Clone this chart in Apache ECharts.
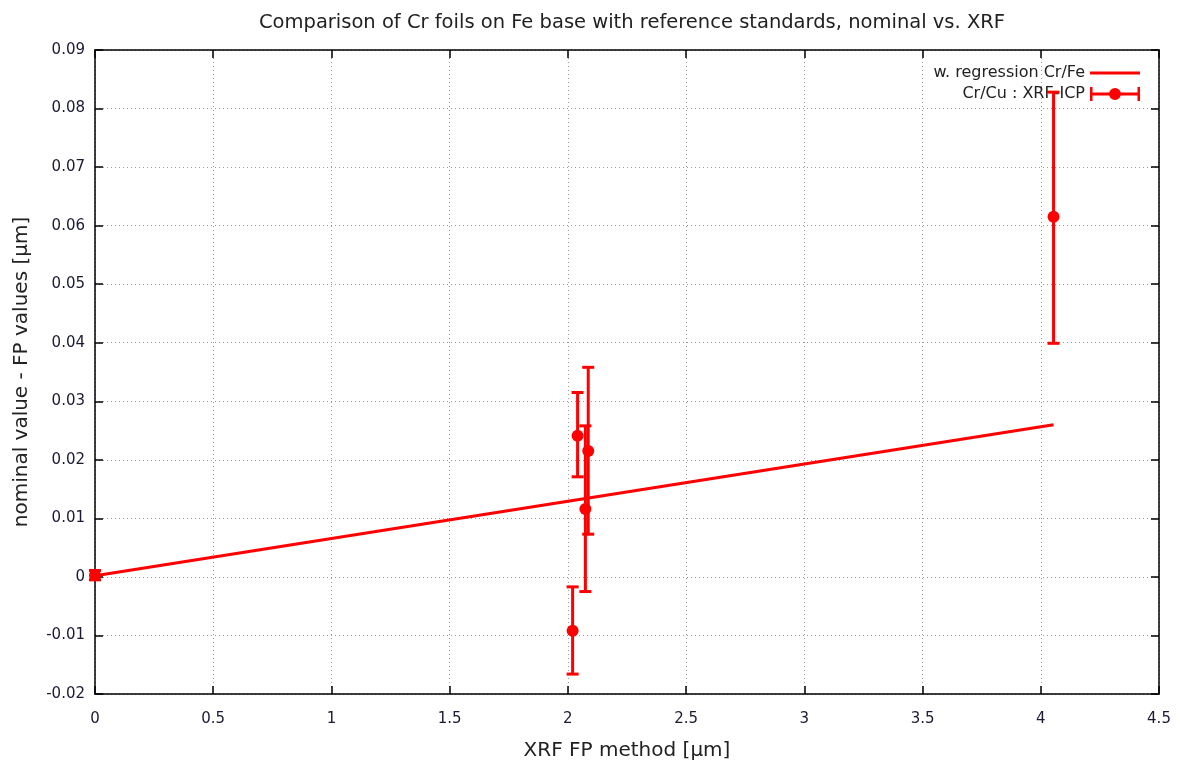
<!DOCTYPE html>
<html>
<head>
<meta charset="utf-8">
<script src="https://cdn.jsdelivr.net/npm/echarts@6/dist/echarts.min.js"></script>
<style>
  html, body { margin: 0; padding: 0; background: #fff; }
  #chart { width: 1180px; height: 764px; }
</style>
</head>
<body>
<div id="chart"></div>
<script>
// Cr/Cu : XRF-ICP points with error bars
var crCuX = [0, 2.02, 2.041, 2.086, 2.074, 4.054];
var crCuY = [0.0003, -0.0092, 0.0241, 0.0215, 0.0116, 0.0615];
var crCuLow = [-0.0005, -0.0166, 0.0171, 0.0073, -0.0025, 0.0399];
var crCuHigh = [0.0011, -0.0017, 0.0315, 0.0358, 0.0258, 0.0828];

// weighted regression line Cr/Fe
var regX = [0, 4.054];
var regY = [0.0002, 0.0260];

var font = 'DejaVu Sans';
var red = '#ff0000';

window.onload = function () {
    var chart = echarts.init(document.getElementById('chart'));

    var errData = crCuX.map(function (x, i) {
        return [x, crCuY[i], crCuLow[i], crCuHigh[i]];
    });
    var regData = regX.map(function (x, i) { return [x, regY[i]]; });

    // 误差线
    function renderErr(params, api) {
        var x = api.value(0);
        var p = api.coord([x, api.value(1)]);
        var lo = api.coord([x, api.value(2)]);
        var hi = api.coord([x, api.value(3)]);
        var cw = 6;
        var st = { stroke: red, lineWidth: 3 };
        return {
            type: 'group',
            children: [
                { type: 'line', shape: { x1: lo[0], y1: lo[1], x2: hi[0], y2: hi[1] }, style: st },
                { type: 'line', shape: { x1: lo[0] - cw, y1: lo[1], x2: lo[0] + cw, y2: lo[1] }, style: st },
                { type: 'line', shape: { x1: hi[0] - cw, y1: hi[1], x2: hi[0] + cw, y2: hi[1] }, style: st },
                { type: 'circle', shape: { cx: p[0], cy: p[1], r: 6 }, style: { fill: red } }
            ]
        };
    }

    var axisLine = { show: true, onZero: false, lineStyle: { color: '#000', width: 1.5 } };
    var axisTick = { show: true, inside: true, length: 8, lineStyle: { color: '#000', width: 1.5 } };
    var gridDots = { show: true, lineStyle: { color: '#999', type: [1, 3], width: 1 } };

    var option = {
        backgroundColor: '#fff',
        animation: false,
        title: {
            text: 'Comparison of Cr foils on Fe base with reference standards, nominal vs. XRF',
            left: 627, textAlign: 'center', top: 8,
            textStyle: { fontFamily: font, fontSize: 19.5, fontWeight: 'normal', color: '#222' }
        },
        legend: {
            orient: 'vertical',
            right: 35, top: 60,
            align: 'right',
            itemWidth: 50, itemHeight: 14, itemGap: 5,
            textStyle: { fontFamily: font, fontSize: 16, color: '#222' },
            data: [
                {
                    name: 'w. regression Cr/Fe',
                    icon: 'path://M0,5.5H50V8.5H0Z',
                    itemStyle: { color: red, borderWidth: 0 }
                },
                {
                    name: 'Cr/Cu : XRF-ICP',
                    icon: 'path://M0,0H2.5V14H0Z M2.5,5.5H47.5V8.5H2.5Z M47.5,0H50V14H47.5Z M19,7A6,6 0 1,1 31,7A6,6 0 1,1 19,7Z',
                    itemStyle: { color: red, borderWidth: 0 }
                }
            ]
        },
        grid: { left: 95, right: 21, top: 50, bottom: 70, outerBoundsMode: 'none' },
        xAxis: [
            {
                type: 'value', min: 0, max: 4.5, interval: 0.5,
                name: 'XRF FP method [µm]', nameLocation: 'middle', nameGap: 47,
                nameTextStyle: { fontFamily: font, fontSize: 20, color: '#222' },
                axisLabel: { fontFamily: font, fontSize: 15, color: '#1a1a33', margin: 18 },
                axisLine: axisLine, axisTick: axisTick, splitLine: gridDots
            },
            {
                type: 'value', position: 'top', min: 0, max: 4.5, interval: 0.5,
                axisLabel: { show: false }, splitLine: { show: false },
                axisLine: axisLine, axisTick: axisTick
            }
        ],
        yAxis: [
            {
                type: 'value', min: -0.02, max: 0.09, interval: 0.01,
                name: 'nominal value - FP values [µm]', nameLocation: 'middle', nameGap: 63,
                nameTextStyle: { fontFamily: font, fontSize: 20, color: '#222' },
                axisLabel: { fontFamily: font, fontSize: 15, color: '#1a1a33', margin: 10 },
                axisLine: axisLine, axisTick: axisTick, splitLine: gridDots
            },
            {
                type: 'value', position: 'right', min: -0.02, max: 0.09, interval: 0.01,
                axisLabel: { show: false }, splitLine: { show: false },
                axisLine: axisLine, axisTick: axisTick
            }
        ],
        series: [
            {
                name: 'w. regression Cr/Fe',
                type: 'line',
                data: regData,
                symbol: 'none',
                lineStyle: { color: red, width: 3 },
                itemStyle: { color: red },
                z: 3
            },
            {
                name: 'Cr/Cu : XRF-ICP',
                type: 'custom',
                renderItem: renderErr,
                data: errData,
                encode: { x: 0, y: [1, 2, 3] },
                itemStyle: { color: red },
                clip: false,
                z: 4
            }
        ]
    };

    chart.setOption(option);
};
</script>
</body>
</html>
